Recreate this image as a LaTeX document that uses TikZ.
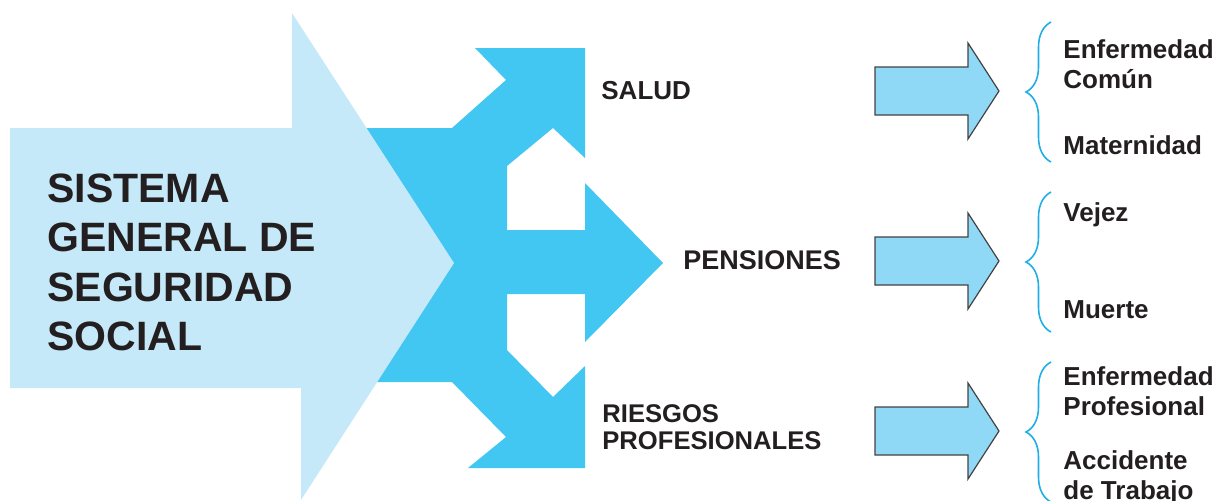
\documentclass[tikz,border=0pt]{standalone}
\usepackage{fontspec}
\setmainfont{Liberation Sans}
\usetikzlibrary{decorations.pathreplacing}
\definecolor{pale}{HTML}{C5E9F8}
\definecolor{deep}{HTML}{42C7F2}
\definecolor{mid}{HTML}{8FD9F6}
\definecolor{curl}{HTML}{1FAEE8}
\definecolor{ink}{HTML}{231F20}

\begin{document}
\begin{tikzpicture}[x=0.5pt, y=-0.5pt,
    txt/.style = {inner sep=0pt, text=ink, align=left, font=\bfseries\fontsize{13}{15}\selectfont},
    small/.style = {fill=mid, draw=ink!85, line width=0.6pt},
    curly/.style = {draw=curl, line width=0.8pt, decorate, decoration={brace, amplitude=12.5pt, aspect=0.5}}]
    \useasboundingbox (0,0) rectangle (1222,500);
    \fill[deep] (290,128) -- (452,128) -- (506,80) -- (475,48) -- (585,48) -- (585,158) -- (553,128)
        -- (507,166) -- (507,230) -- (585,230) -- (585,183) -- (663,263) -- (585,342) -- (585,294)
        -- (507,294) -- (507,350) -- (553,397) -- (585,366) -- (585,468) -- (468,468) -- (506,437)
        -- (452,382) -- (290,382) -- cycle;
    \fill[pale] (10,128) -- (292,128) -- (292,13) -- (454,263) -- (301,500) -- (301,388) -- (10,388) -- cycle;
    \node[txt, anchor=north west, font=\bfseries\fontsize{20.5}{24.75}\selectfont] (sgss) at (47,173) {SISTEMA\\GENERAL DE\\SEGURIDAD\\SOCIAL};
    \node[txt, anchor=base west] (salud) at (601,99) {SALUD};
    \node[txt, anchor=base west, font=\bfseries\fontsize{13.5}{15}\selectfont] (pens) at (683,269) {PENSIONES};
    \node[txt, anchor=north west, font=\bfseries\fontsize{12.8}{13.5}\selectfont] (riesgos) at (602,404) {RIESGOS\\PROFESIONALES};
    \foreach \c in {91,261,431} {
        \draw[small] (875,\c-24) -- (968,\c-24) -- (968,\c-48) -- (999,\c) -- (968,\c+48) -- (968,\c+24) -- (875,\c+24) -- cycle;
        \draw[curly] (1051,\c+71) -- (1051,\c-69);
    }
    \node[txt, anchor=north west] (ecomun) at (1063,39) {Enfermedad\\Común};
    \node[txt, anchor=base west] (mat) at (1063,154) {Maternidad};
    \node[txt, anchor=base west] (vejez) at (1063,221) {Vejez};
    \node[txt, anchor=base west] (muerte) at (1063,318) {Muerte};
    \node[txt, anchor=north west] (eprof) at (1063,366) {Enfermedad\\Profesional};
    \node[txt, anchor=north west] (acc) at (1063,450) {Accidente\\de Trabajo};
\end{tikzpicture}
\end{document}
